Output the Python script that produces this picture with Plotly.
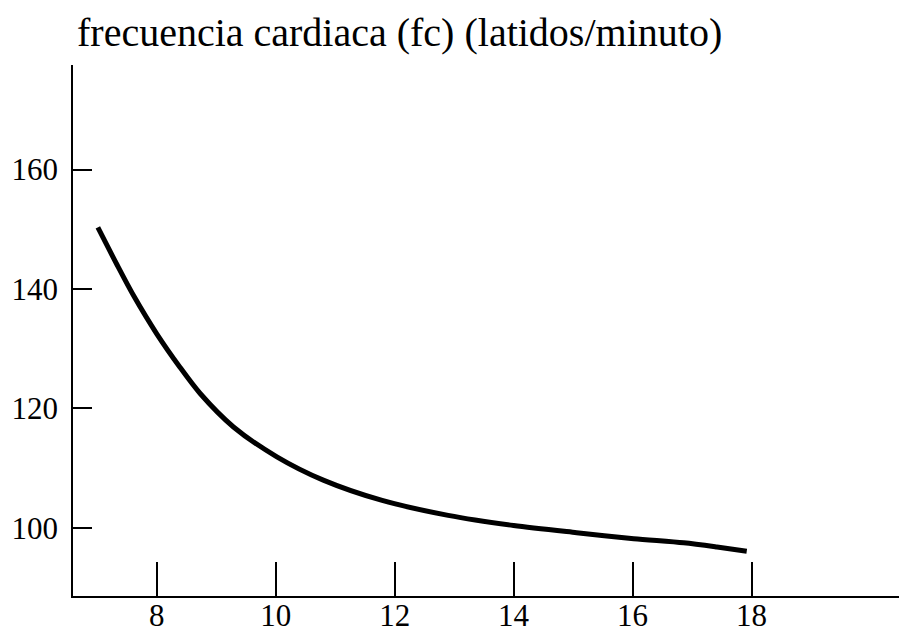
import plotly.graph_objects as go

# Data (x values, heart rate fc in beats/minute)
x_vals = [7.01, 7.33, 7.61, 8.0, 8.39, 8.73, 9.29, 10.02, 10.8, 11.79, 12.9, 14.0, 15.06, 16.02, 16.86, 17.42, 17.92]
fc_vals = [150.3, 144.1, 138.9, 132.5, 126.9, 122.5, 116.9, 111.9, 108.0, 104.6, 102.1, 100.4, 99.2, 98.2, 97.5, 96.8, 96.1]

x_ticks = [8, 10, 12, 14, 16, 18]
y_ticks = [100, 120, 140, 160]
title_text = "frecuencia cardiaca (fc) (latidos/minuto)"

fig = go.Figure()
fig.add_trace(go.Scatter(x=x_vals, y=fc_vals, mode="lines",
                         line=dict(color="black", width=5, shape="spline", smoothing=0.8),
                         showlegend=False, hoverinfo="skip"))

font = dict(family="Liberation Serif, Times New Roman, serif", size=31, color="black")
title_font = dict(family="Liberation Serif, Times New Roman, serif", size=40, color="black")

fig.update_layout(
    width=899, height=630,
    margin=dict(l=73, r=0, t=65, b=34),
    paper_bgcolor="white", plot_bgcolor="white",
    font=font,
    title=dict(text=title_text, font=title_font, xref="container", x=77/899, xanchor="left",
               yref="container", y=1 - 46/630, yanchor="bottom"),
)
fig.update_xaxes(range=[6.592, 20.48], tickvals=x_ticks, ticktext=[str(v) for v in x_ticks],
                 ticks="inside", ticklen=34, tickwidth=1.5, tickcolor="black",
                 showline=True, linecolor="black", linewidth=1.5, ticklabelstandoff=-9,
                 showgrid=False, zeroline=False, tickfont=font, automargin=False)
fig.update_yaxes(range=[88.6, 177.5], tickvals=y_ticks, ticktext=[str(v) for v in y_ticks],
                 ticks="inside", ticklen=19, tickwidth=1.5, tickcolor="black",
                 showline=True, linecolor="black", linewidth=1.5, ticklabelstandoff=7,
                 showgrid=False, zeroline=False, tickfont=font, automargin=False)

fig.write_html("out.html", config={"displayModeBar": False},
               post_script="document.body.style.margin='0';document.body.style.overflow='hidden';")
